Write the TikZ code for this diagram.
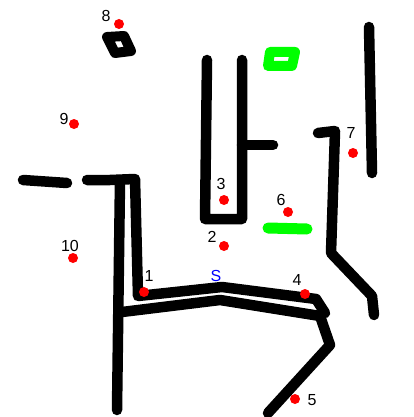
\documentclass[tikz,border=0pt]{standalone}
\usepackage{fontspec}
\setmainfont{Liberation Sans}
\definecolor{lgreen}{RGB}{0,255,0}
\definecolor{dred}{RGB}{255,0,0}
\definecolor{sblue}{RGB}{0,0,255}
\begin{document}
\begin{tikzpicture}[x=1pt,y=-1pt,
  wall/.style={line width=10.5pt,line cap=round,line join=round,black},
  gwall/.style={line width=10pt,line cap=round,line join=round,lgreen},
  pt/.style={circle,fill=dred,inner sep=0pt,minimum width=8.5pt,minimum height=10pt},
  lbl/.style={font=\fontsize{16}{16}\selectfont,inner sep=0pt},
  slbl/.style={font=\fontsize{16}{16}\selectfont,inner sep=0pt,text=sblue}]
\useasboundingbox (0,0) rectangle (413,417);
% black walls
\draw[wall,line width=10pt] (107,37) -- (124,36) -- (131,51) -- (115,53) -- cycle;
\draw[wall] (207,60) -- (205,219) -- (242,219) -- (242,60);
\draw[wall] (242,145) -- (273,145);
\draw[wall] (369,27) -- (372,173);
\draw[wall] (318,133) -- (335,131) -- (331,253) -- (372,296) -- (374,315);
\draw[wall] (23,180) -- (67,183);
\draw[wall] (87,180) -- (110,180) -- (135,179) -- (138,296) -- (222,287) -- (316,299) -- (325,313);
\draw[wall] (120,180) -- (117,410);
\draw[wall] (122,312) -- (220,300) -- (320,316) -- (330,345) -- (268,413);
% green
\draw[gwall] (270,52) -- (295,52) -- (292,66) -- (268,66) -- cycle;
\draw[gwall,line width=11pt] (268,228) -- (307,229);
% points
\node[pt] (p8) at (119,24) {};
\node[pt] (p9) at (74,124) {};
\node[pt] (p3) at (224,200) {};
\node[pt] (p2) at (224,246) {};
\node[pt] (p6) at (288,212) {};
\node[pt] (p7) at (353,153) {};
\node[pt] (p10) at (73,258) {};
\node[pt] (p1) at (144,292) {};
\node[pt] (p4) at (305,294) {};
\node[pt] (p5) at (295,399) {};
% labels
\node[lbl] (l8) at (106,16) {8};
\node[lbl] (l9) at (64,119) {9};
\node[lbl] (l3) at (221,184) {3};
\node[lbl] (l2) at (212,237) {2};
\node[lbl] (l6) at (281,200) {6};
\node[lbl] (l7) at (351,133) {7};
\node[lbl] (l10) at (70,246) {10};
\node[lbl] (l1) at (149,276) {1};
\node[lbl] (l4) at (297,280) {4};
\node[lbl] (l5) at (312,400) {5};
\node[slbl] (ls) at (216,276) {S};
\end{tikzpicture}
\end{document}
